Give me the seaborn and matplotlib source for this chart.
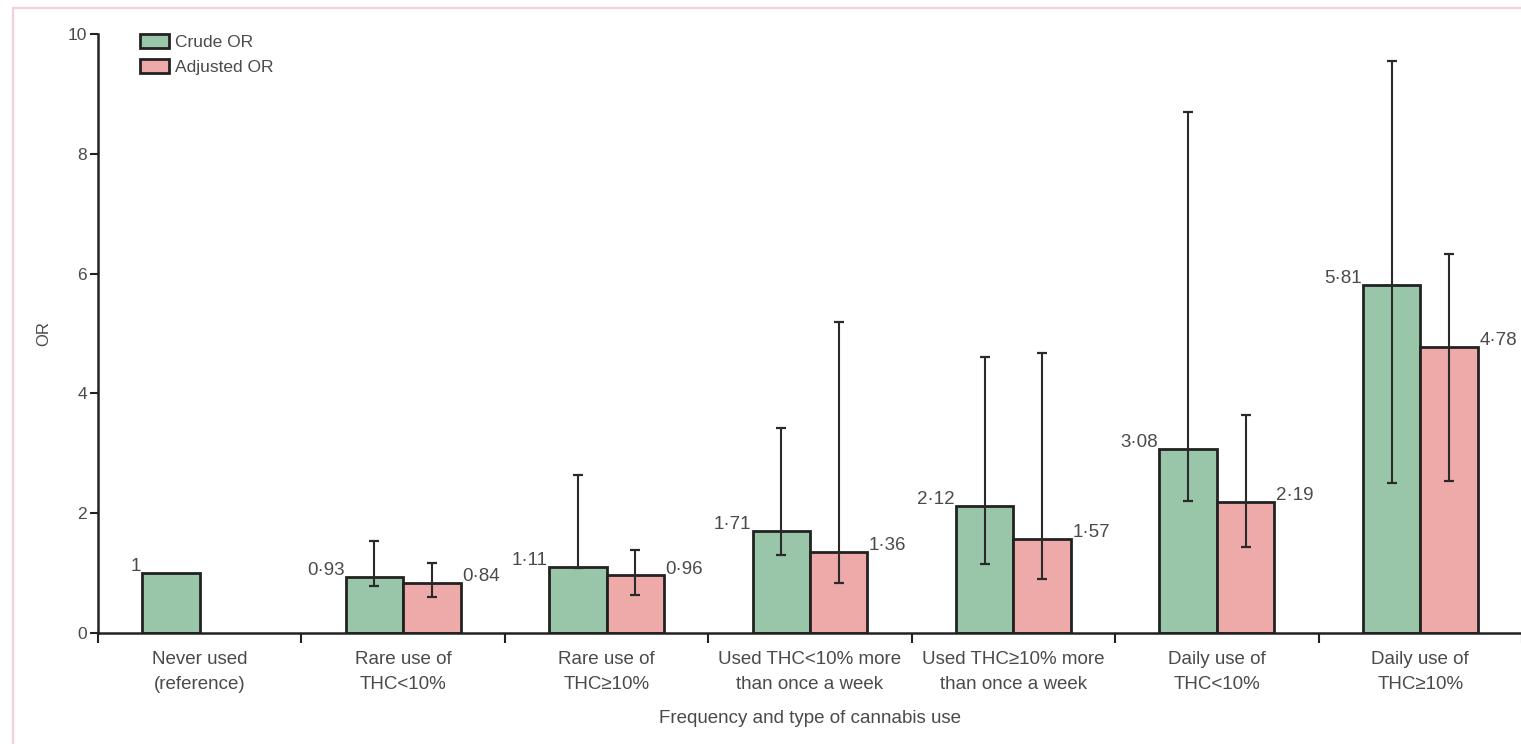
import matplotlib
matplotlib.use("Agg")
import matplotlib.pyplot as plt
from matplotlib.patches import Rectangle, Patch
import numpy as np
import pandas as pd
import seaborn as sns

# Odds ratios by frequency and type of cannabis use
categories = [
    "Never used\n(reference)",
    "Rare use of\nTHC<10%",
    "Rare use of\nTHC\u226510%",
    "Used THC<10% more\nthan once a week",
    "Used THC\u226510% more\nthan once a week",
    "Daily use of\nTHC<10%",
    "Daily use of\nTHC\u226510%",
]
crude_or = [1.00, 0.93, 1.11, 1.71, 2.12, 3.08, 5.81]
crude_lo = [np.nan, 0.79, 1.08, 1.30, 1.15, 2.21, 2.50]
crude_hi = [np.nan, 1.53, 2.64, 3.43, 4.61, 8.70, 9.55]
adjusted_or = [np.nan, 0.84, 0.96, 1.36, 1.57, 2.19, 4.78]
adjusted_lo = [np.nan, 0.60, 0.64, 0.83, 0.90, 1.43, 2.54]
adjusted_hi = [np.nan, 1.17, 1.38, 5.19, 4.68, 3.64, 6.33]
series_names = ["Crude OR", "Adjusted OR"]
y_ticks = [0, 2, 4, 6, 8, 10]

GREEN = "#99c6a8"
PINK = "#eeaaa8"
EDGE = "#222222"
TEXT = "#4a4a4a"

sns.set_theme(style="white")
plt.rcParams["font.family"] = ["Liberation Sans Narrow", "Liberation Sans", "DejaVu Sans"]

rows = []
for cat, v in zip(categories, crude_or):
    rows.append({"category": cat, "series": series_names[0], "OR": v})
for cat, v in zip(categories, adjusted_or):
    if not np.isnan(v):
        rows.append({"category": cat, "series": series_names[1], "OR": v})
df = pd.DataFrame(rows)

fig = plt.figure(figsize=(15.21, 7.44), dpi=100)
ax = fig.add_axes([98 / 1521, 111 / 744, 1424 / 1521, 599 / 744])

sns.barplot(
    data=df, x="category", y="OR", hue="series",
    order=categories, hue_order=series_names,
    palette={series_names[0]: GREEN, series_names[1]: PINK},
    width=0.565, gap=0, errorbar=None, dodge=True,
    edgecolor=EDGE, linewidth=2.0, saturation=1, legend=False, ax=ax,
)

# Confidence intervals and value labels taken from the drawn bars
ci = {
    series_names[0]: (crude_lo, crude_hi),
    series_names[1]: (adjusted_lo, adjusted_hi),
}
for name, container in zip(series_names, ax.containers):
    lo, hi = ci[name]
    for patch in container.patches:
        h = patch.get_height()
        if np.isnan(h) or h == 0:
            continue
        xc = patch.get_x() + patch.get_width() / 2
        i = int(round(xc))
        if not np.isnan(lo[i]):
            ax.errorbar(
                xc, h, yerr=[[h - lo[i]], [hi[i] - h]], fmt="none",
                ecolor="#2a2a2a", elinewidth=1.5, capsize=3.6, capthick=1.6,
                zorder=5,
            )
        label = f"{h:.2f}".replace(".", "\u00b7") if h != 1 else "1"
        if name == series_names[0]:
            ax.annotate(label, (patch.get_x(), h), xytext=(-1, -1.5),
                        textcoords="offset points", ha="right", va="bottom",
                        fontsize=13.5, color=TEXT)
        else:
            ax.annotate(label, (patch.get_x() + patch.get_width(), h),
                        xytext=(1, -1.5), textcoords="offset points",
                        ha="left", va="bottom", fontsize=13.5, color=TEXT)

ax.set_xlim(-0.5, len(categories) - 0.5)
ax.set_ylim(0, 10)
ax.set_yticks(y_ticks)
ax.set_yticklabels([str(t) for t in y_ticks], fontsize=12.5, color=TEXT)

# Category boundaries carry the tick marks; names sit at the centres
ax.set_xticks(np.arange(len(categories) + 1) - 0.5)
ax.set_xticklabels([])
ax.set_xticks(np.arange(len(categories)), minor=True)
ax.set_xticklabels(categories, minor=True, fontsize=13.5, color=TEXT,
                   linespacing=1.6)
ax.tick_params(axis="x", which="major", direction="out", length=7,
               width=1.5, color=EDGE, bottom=True)
ax.tick_params(axis="x", which="minor", length=0, pad=13)
ax.tick_params(axis="y", direction="out", length=6, width=1.5,
               color=EDGE, left=True, pad=2)

for side in ("top", "right"):
    ax.spines[side].set_visible(False)
for side in ("left", "bottom"):
    ax.spines[side].set_color(EDGE)
    ax.spines[side].set_linewidth(1.8)

ax.set_xlabel("Frequency and type of cannabis use", fontsize=13.5,
              color=TEXT, labelpad=12)
ax.set_ylabel("OR", fontsize=12, color=TEXT)
ax.yaxis.set_label_coords(-0.033, 0.5)

handles = [
    Patch(facecolor=GREEN, edgecolor=EDGE, linewidth=2, label=series_names[0]),
    Patch(facecolor=PINK, edgecolor=EDGE, linewidth=2, label=series_names[1]),
]
leg = ax.legend(handles=handles, loc="upper left",
                bbox_to_anchor=(0.0245, 1.012), frameon=False, fontsize=12.5,
                handlelength=1.7, handleheight=0.85, handletextpad=0.3,
                labelspacing=0.55, borderaxespad=0)
for t in leg.get_texts():
    t.set_color(TEXT)

# Thin pink frame around the figure (top and left edges visible)
fig.patches.append(Rectangle((13 / 1521, -0.1), 1.2, 1.1 - 8 / 744,
                             transform=fig.transFigure, fill=False,
                             edgecolor="#f5d0da", linewidth=1.6))

fig.savefig("out.png", dpi=100)
